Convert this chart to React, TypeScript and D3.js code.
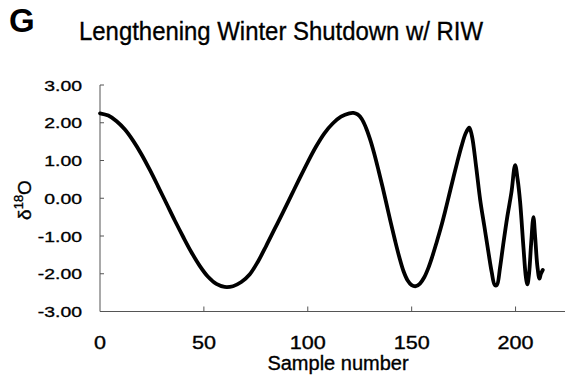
import React from "react";
import * as d3 from "d3";

const sampleNumbers = [
  0, 4, 8, 12, 16, 20, 24, 28, 32, 36, 40, 44, 48, 52, 56, 60, 64, 68, 72, 76,
  80, 84, 88, 92, 96, 100, 104, 108, 112, 116, 120, 122, 124, 126, 128, 130,
  132, 134, 136, 138, 140, 142, 144, 146, 148, 150, 152, 154, 156, 158, 160,
  162, 164, 166, 168, 170, 172, 174, 176, 177.7, 179, 181, 183, 185, 187, 188.5,
  190, 191, 192.5, 194, 196, 198, 199.8, 201, 202.2, 203.8, 205, 205.7, 206.5,
  207.5, 208.6, 209.4, 210.5, 211.5, 212.2, 213.1,
];
const d18O = [
  2.25, 2.19, 2.04, 1.82, 1.52, 1.16, 0.75, 0.31, -0.14, -0.59, -1.02, -1.43,
  -1.79, -2.08, -2.27, -2.35, -2.33, -2.22, -2.02, -1.68, -1.26, -0.82, -0.38,
  0.07, 0.52, 0.96, 1.37, 1.72, 1.98, 2.16, 2.25, 2.26, 2.22, 2.1, 1.87, 1.56,
  1.18, 0.75, 0.3, -0.18, -0.66, -1.12, -1.55, -1.92, -2.17, -2.3, -2.33, -2.26,
  -2.1, -1.85, -1.53, -1.17, -0.79, -0.37, 0.08, 0.53, 0.97, 1.38, 1.72, 1.87,
  1.65, 0.85, -0.05, -0.75, -1.45, -1.95, -2.3, -2.3, -1.85, -1.25, -0.5, 0.15,
  0.88, 0.5, -0.1, -1.3, -2.1, -2.28, -2.0, -1.2, -0.5, -1.0, -1.8, -2.13, -2.0,
  -1.9,
];
const xTicks = [0, 50, 100, 150, 200];
const yTicks = [3, 2, 1, 0, -1, -2, -3];
const title = "Lengthening Winter Shutdown w/ RIW";
const panelLabel = "G";
const xLabel = "Sample number";

export default function App() {
  const x = d3.scaleLinear().domain([0, 225]).range([100, 567.5]);
  const y = d3.scaleLinear().domain([-3, 3]).range([311.5, 85]);
  const pts: [number, number][] = sampleNumbers.map((s, i) => [s, d18O[i]]);
  const line = d3
    .line<[number, number]>()
    .x((d) => x(d[0]))
    .y((d) => y(d[1]))
    .curve(d3.curveCatmullRom.alpha(0.5));
  const axisColor = "#555";
  const font = "'Liberation Sans', Arial, Helvetica, sans-serif";
  const x0 = x(0);
  const yb = y(-3);
  const txtStroke = { stroke: "#000", strokeWidth: 0.35 };
  return (
    <div style={{ position: "fixed", left: 0, top: 0 }}>
      <svg width={565} height={378} style={{ display: "block", background: "#fff" }} fontFamily={font}>
        <text x={9} y={32} fontSize={33} fontWeight="bold" fill="#000">
          {panelLabel}
        </text>
        <text x={79} y={39.5} fontSize={26} fill="#000" textLength={404} lengthAdjust="spacingAndGlyphs" {...txtStroke}>
          {title}
        </text>
        {/* axes */}
        <line x1={x0} x2={x0} y1={y(3)} y2={yb} stroke={axisColor} strokeWidth={1} />
        <line x1={x0} x2={565} y1={yb} y2={yb} stroke={axisColor} strokeWidth={1} />
        {yTicks.map((t) => (
          <g key={"y" + t}>
            <line x1={x0} x2={x0 + 4} y1={y(t)} y2={y(t)} stroke={axisColor} strokeWidth={1} />
            <text
              transform={`translate(82,${y(t) + 5.5}) scale(1.25,1)`}
              textAnchor="end"
              fontSize={15.5}
              fill="#000"
              {...txtStroke}
            >
              {t.toFixed(2)}
            </text>
          </g>
        ))}
        {xTicks.map((t) => (
          <g key={"x" + t}>
            {t > 0 && (
              <line x1={x(t)} x2={x(t)} y1={yb} y2={yb - 5} stroke={axisColor} strokeWidth={1} />
            )}
            <text
              transform={`translate(${x(t)},348.5) scale(1.2,1)`}
              textAnchor="middle"
              fontSize={18}
              fill="#000"
              {...txtStroke}
            >
              {String(t)}
            </text>
          </g>
        ))}
        <text x={338} y={370} textAnchor="middle" fontSize={20} fill="#000" {...txtStroke}>
          {xLabel}
        </text>
        <text transform="translate(31,200) rotate(-90)" textAnchor="middle" fontSize={19} fill="#000" {...txtStroke}>
          δ<tspan fontSize={13} dy={-8}>18</tspan>
          <tspan dy={8}>O</tspan>
        </text>
        <path d={line(pts) || ""} fill="none" stroke="#000" strokeWidth={3.8} strokeLinejoin="round" strokeLinecap="round" />
      </svg>
    </div>
  );
}
